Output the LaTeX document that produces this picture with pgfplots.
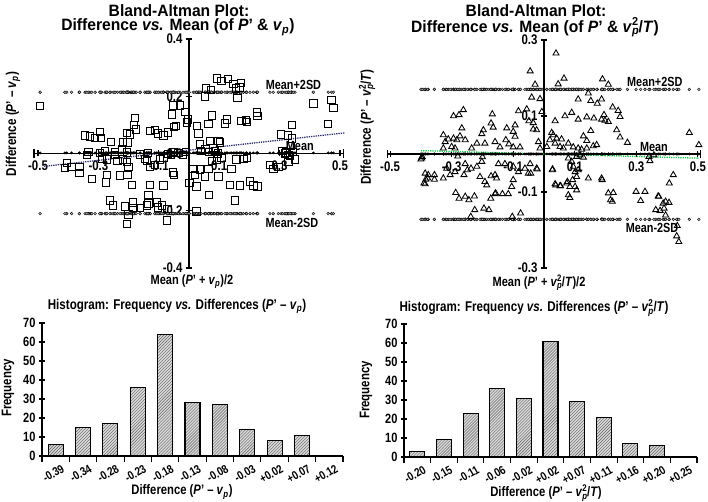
\documentclass[border=0pt]{standalone}
\usepackage{fontspec}
\setmainfont{Liberation Sans}[FakeStretch=0.82]
\newfontfamily\titlefont{Liberation Sans}[FakeStretch=0.95]
\usepackage{pgfplots}
\pgfplotsset{compat=1.18}
\usepackage{pgfplotstable}
\usetikzlibrary{patterns}

\newcommand{\Pp}{\textit{P}’}
\newcommand{\vp}{\textit{v}\textsubscript{\textit{p}}}
\newcommand{\vpsq}{\textit{v}\rlap{\textsubscript{\textit{p}}}\textsuperscript{2}}

\pgfplotstableread{
x y
-0.493 0.166
-0.052 0.168
-0.030 0.168
-0.057 0.137
-0.013 0.145
-0.044 0.096
-0.050 0.092
-0.006 0.108
-0.179 0.125
-0.182 0.099
-0.175 0.084
-0.206 0.072
-0.195 0.067
-0.204 0.038
-0.218 0.038
-0.223 0.014
-0.344 0.063
-0.328 0.059
-0.311 0.055
-0.292 0.055
-0.295 0.075
-0.259 0.040
-0.129 0.078
-0.113 0.082
-0.102 0.070
-0.085 0.063
-0.069 0.073
-0.333 0.005
-0.278 0.008
-0.245 0.005
-0.289 -0.019
-0.272 -0.021
-0.237 -0.027
-0.218 -0.021
-0.206 -0.030
-0.201 -0.047
-0.146 -0.019
-0.140 -0.027
-0.129 -0.047
-0.096 -0.021
-0.085 -0.015
-0.113 -0.039
-0.405 -0.033
-0.411 -0.050
-0.389 -0.047
-0.363 -0.047
-0.363 -0.068
-0.322 -0.088
-0.275 -0.101
-0.272 -0.074
-0.228 -0.077
-0.204 -0.074
-0.190 -0.109
-0.129 -0.109
-0.085 -0.112
-0.135 -0.144
-0.054 -0.066
-0.050 -0.074
-0.262 -0.164
-0.251 -0.182
-0.212 -0.185
-0.186 -0.171
-0.184 -0.191
-0.162 -0.191
-0.140 -0.182
-0.135 -0.175
-0.107 -0.171
-0.102 -0.188
-0.090 -0.182
-0.072 -0.194
-0.074 -0.234
-0.206 -0.246
-0.201 -0.213
0.001 -0.103
0.092 0.262
0.108 0.254
0.128 0.260
0.147 0.242
0.172 0.246
0.156 0.227
0.167 0.231
0.160 0.194
0.056 0.227
0.072 0.222
0.052 0.199
0.412 0.175
0.472 0.187
0.478 0.160
0.461 0.104
-0.004 0.119
0.075 0.133
0.064 0.104
0.125 0.119
0.119 0.105
0.174 0.113
0.191 0.110
0.189 0.117
0.224 0.143
0.227 0.131
0.031 0.070
0.027 0.096
0.340 0.099
0.305 0.067
0.327 0.063
0.340 0.052
0.338 0.026
0.036 0.032
0.070 0.043
0.097 0.043
0.103 0.038
0.081 0.020
0.092 -0.021
0.075 -0.027
0.108 -0.015
0.014 -0.054
0.036 -0.056
0.064 -0.054
0.020 -0.074
0.053 -0.080
0.025 -0.115
0.097 -0.080
0.141 -0.054
0.157 -0.021
0.180 -0.019
0.191 -0.015
0.136 -0.109
0.169 -0.112
0.202 -0.097
0.213 -0.112
0.227 -0.115
0.066 -0.144
0.152 -0.164
0.268 -0.039
0.279 -0.054
0.296 -0.047
0.329 -0.030
0.351 -0.021
0.318 0.000
0.329 -0.004
0.025 -0.202
-0.050 0.005
-0.035 0.002
-0.020 -0.004
-0.010 0.006
-0.060 -0.006
0.040 0.010
0.055 0.015
0.065 0.005
0.085 0.008
0.095 0.000
0.310 0.008
0.322 0.004
0.335 -0.008
0.345 0.006
-0.338 -0.004
-0.295 0.003
-0.245 -0.005
-0.205 0.004
-0.162 -0.003
-0.136 0.002
-0.070 -0.002
-0.053 0.004
}\dataA

\pgfplotstableread{
x y
-0.045 0.218
-0.029 0.183
-0.040 0.149
-0.013 0.145
-0.007 0.111
-0.056 0.118
-0.083 0.113
-0.049 0.087
-0.035 0.082
-0.035 0.065
-0.024 0.063
-0.094 0.076
-0.100 0.059
-0.121 0.068
-0.094 0.046
-0.124 0.037
-0.114 0.026
-0.100 0.018
-0.078 0.018
-0.018 0.032
-0.013 0.015
-0.168 0.105
-0.172 0.081
-0.165 0.070
-0.197 0.063
-0.202 0.053
-0.192 0.028
-0.218 0.028
-0.235 0.015
-0.159 0.032
-0.143 0.018
-0.262 0.116
-0.276 0.103
-0.294 0.100
-0.267 0.068
-0.273 0.047
-0.327 0.050
-0.321 0.032
-0.311 0.039
-0.294 0.041
-0.283 0.037
-0.256 0.037
-0.300 0.019
-0.289 0.015
-0.327 0.015
-0.397 -0.011
-0.386 -0.051
-0.376 -0.055
-0.356 -0.055
-0.384 -0.067
-0.378 -0.064
-0.356 -0.067
-0.386 -0.079
-0.327 -0.064
-0.305 -0.055
-0.289 -0.047
-0.316 -0.038
-0.256 -0.026
-0.237 -0.038
-0.218 -0.033
-0.202 -0.020
-0.208 -0.060
-0.192 -0.073
-0.186 -0.082
-0.172 -0.058
-0.159 -0.055
-0.154 -0.064
-0.148 -0.026
-0.127 -0.026
-0.100 -0.033
-0.083 -0.047
-0.062 -0.038
-0.045 -0.026
-0.051 -0.051
-0.024 -0.038
-0.100 -0.068
-0.105 -0.086
-0.116 -0.105
-0.135 -0.105
-0.159 -0.105
-0.226 -0.111
-0.256 -0.112
-0.287 -0.102
-0.276 -0.117
-0.244 -0.121
-0.225 -0.147
-0.195 -0.143
-0.179 -0.147
-0.238 -0.165
-0.173 -0.117
-0.157 -0.103
-0.076 -0.156
-0.103 -0.165
-0.400 -0.014
-0.390 -0.077
-0.260 -0.055
-0.249 -0.042
-0.043 -0.051
-0.022 -0.040
0.039 0.265
0.065 0.199
0.046 0.184
0.190 0.197
0.209 0.183
0.144 0.160
0.111 0.144
0.152 0.140
0.173 0.133
0.187 0.144
0.223 0.123
0.241 0.114
0.247 0.098
0.195 0.103
0.187 0.091
0.198 0.088
0.209 0.085
0.090 0.109
0.068 0.100
0.111 0.091
0.139 0.097
0.162 0.094
0.036 0.087
0.152 0.061
0.128 0.047
0.139 0.035
0.160 0.021
0.236 0.063
0.247 0.044
0.271 0.030
0.171 0.024
0.025 0.056
0.030 0.050
0.019 0.037
0.041 0.041
0.057 0.039
0.036 0.028
0.052 0.019
0.063 0.015
0.079 0.028
0.095 0.018
0.111 0.015
0.122 0.012
0.139 0.015
0.009 0.019
0.472 0.056
0.503 0.024
0.344 -0.018
0.028 -0.040
0.079 -0.011
0.090 -0.020
0.095 -0.033
0.101 -0.047
0.106 -0.060
0.111 -0.042
0.093 -0.068
0.101 -0.086
0.106 -0.095
0.074 -0.077
0.084 -0.086
0.036 -0.079
0.052 -0.084
0.144 -0.064
0.187 -0.064
0.079 -0.108
0.209 -0.103
0.225 -0.102
0.299 -0.099
0.328 -0.099
0.371 -0.111
0.420 -0.055
0.407 -0.077
0.117 -0.003
0.128 -0.009
0.106 -0.007
0.027 -0.042
0.038 -0.082
0.054 -0.084
0.076 -0.073
0.084 -0.115
0.189 -0.068
0.216 -0.121
0.222 -0.125
0.314 -0.123
0.395 -0.125
0.387 -0.130
0.406 -0.128
0.390 -0.143
0.363 -0.147
0.377 -0.149
0.395 -0.161
0.433 -0.189
0.431 -0.216
0.438 -0.231
0.373 -0.112
0.341 -0.007
0.357 -0.003
-0.396 -0.007
-0.280 -0.006
-0.200 -0.008
}\dataB

\pgfplotsset{
  ba/.style={
    scale only axis, clip=false,
    axis lines=middle,
    axis line style={line width=1.2bp,-},
    x axis line style={|-|},
    tick style={line width=1.1bp,black},
    tick align=center,
    major tick length=6bp,
    ticklabel style={font=\fontsize{14}{15}\selectfont\bfseries},
    /pgf/number format/assume math mode=true,
    /pgf/number format/fixed,
    /pgf/number format/fixed zerofill,
    /pgf/number format/precision=1,
    hide obscured x ticks=false,
    hide obscured y ticks=false,
    xticklabel style={yshift=-1bp},
  },
  gdot/.style={only marks, mark=*, mark size=1.4bp, draw=none, fill=gray!55},
  bdot/.style={only marks, mark=*, mark size=1.2bp, draw=none, fill=black},
  hist/.style={
    scale only axis, clip=false,
    axis x line=bottom, axis y line=left,
    axis line style={line width=1.1bp,-},
    tick style={line width=1.1bp,black},
    ymin=0, ymax=70, ytick={0,10,...,70},
    xmin=-0.5, xmax=10.5, xtick={0,...,10},
    major x tick style={draw=none},
    minor xtick={-0.5,0.5,...,10.5},
    minor tick length=6bp, major tick length=6bp,
    tick align=center,
    yticklabel style={font=\fontsize{13.5}{14}\selectfont\bfseries},
    xticklabel style={font=\fontsize{12}{12}\selectfont\bfseries, rotate=30, anchor=north east, xshift=7bp, yshift=-1bp},
    /pgf/number format/assume math mode=true,
    ybar, bar width=15bp, bar shift=0pt,
  },
  hbar/.style={draw=black, line width=1.1bp, fill=gray!30, postaction={pattern=north east lines, pattern color=gray!75!black}},
}

\begin{document}
\begin{tikzpicture}
\path[use as bounding box] (0,0) rectangle (708bp,502bp);

% ---------- Titles and labels ----------
\begin{scope}[every node/.style={font=\titlefont\fontsize{16.5}{18}\selectfont\bfseries, inner sep=0pt}]
\node at (179bp,491bp) {Bland-Altman Plot:};
\node at (178bp,474.5bp) {Difference \textit{vs.} Mean (of \Pp\ \& \vp)};
\node at (536bp,491bp) {Bland-Altman Plot:};
\node at (535bp,474.5bp) {Difference \textit{vs.} Mean (of \Pp\ \& \vpsq/\textit{T})};
\end{scope}
\begin{scope}[every node/.style={font=\fontsize{14.3}{16}\selectfont\bfseries, inner sep=0pt}]
\node[rotate=90] at (13bp,378bp) {Difference (\Pp\ – \vp)};
\node[rotate=90] at (367bp,375bp) {Difference (\Pp\ – \vpsq/\textit{T})};
\end{scope}
\begin{scope}[every node/.style={font=\fontsize{13.5}{15}\selectfont\bfseries, inner sep=0pt}]
\node at (192bp,220bp) {Mean (\Pp\ + \vp)/2};
\node at (539bp,219bp) {Mean (\Pp\ + \vpsq/\textit{T})/2};
\end{scope}
\begin{scope}[every node/.style={font=\fontsize{14.2}{15}\selectfont\bfseries, inner sep=0pt}]
\node at (177bp,196bp) {Histogram: Frequency \textit{vs.} Differences (\Pp\ – \vp)};
\node at (534bp,194bp) {Histogram: Frequency \textit{vs.} Differences (\Pp\ – \vpsq/\textit{T})};
\end{scope}
\begin{scope}[every node/.style={font=\fontsize{14}{15}\selectfont\bfseries, inner sep=0pt}]
\node[rotate=90] at (8bp,114bp) {Frequency};
\node[rotate=90] at (366bp,112bp) {Frequency};
\end{scope}
\begin{scope}[every node/.style={font=\fontsize{13.8}{15}\selectfont\bfseries, inner sep=0pt}]
\node at (182bp,10bp) {Difference (\Pp\ – \vp)};
\node at (546bp,9bp) {Difference (\Pp\ – \vpsq/\textit{T})};
\end{scope}

% ---------- Top left: Bland-Altman ----------
\begin{axis}[ba, at={(33.5bp,234bp)}, anchor=south west, width=311bp, height=229bp,
  xmin=-0.515, xmax=0.515, ymin=-0.4, ymax=0.4,
  xtick={-0.5,-0.3,-0.1,0.1,0.3,0.5}, ytick={-0.4,-0.2,0,0.2,0.4}]
\addplot[gdot] table[x=x, y expr=0.214] {\dataA};
\addplot[gdot] table[x=x, y expr=-0.21] {\dataA};
\addplot[bdot] table[x=x, y expr=0.002] {\dataA};
\addplot[densely dotted, line width=1.3bp, color={rgb,255:red,45;green,45;blue,110}] coordinates {(-0.48,-0.045) (0.515,0.072)};
\addplot[only marks, mark=square, mark size=3.7bp, mark options={draw=black, line width=0.85bp, fill=none}] table[x=x,y=y] {\dataA};
\node[font=\fontsize{13.3}{14}\selectfont\bfseries] at (axis cs:0.346,0.239) {Mean+2SD};
\node[font=\fontsize{13.3}{14}\selectfont\bfseries] at (axis cs:0.367,0.025) {Mean};
\node[font=\fontsize{13.3}{14}\selectfont\bfseries] at (axis cs:0.341,-0.241) {Mean-2SD};
\end{axis}

% ---------- Top right: Bland-Altman ----------
\begin{axis}[ba, at={(387bp,234bp)}, anchor=south west, width=314bp, height=228bp,
  xmin=-0.51, xmax=0.51, ymin=-0.3, ymax=0.3,
  xtick={-0.5,-0.3,-0.1,0.1,0.3,0.5}, ytick={-0.3,-0.1,0,0.1,0.3},
  yticklabel={\ifdim\tick pt=0pt\else\pgfmathprintnumber{\tick}\fi}]
\addplot[gdot] table[x=x, y expr=0.17] {\dataB};
\addplot[gdot] table[x=x, y expr=-0.172] {\dataB};
\addplot[bdot] table[x=x, y expr=0.0] {\dataB};
\addplot[densely dotted, line width=1.3bp, color={rgb,255:red,30;green,200;blue,80}] coordinates {(-0.40,0.009) (0.503,-0.011)};
\addplot[only marks, mark=triangle, mark size=3.5bp, mark options={draw=black, line width=0.85bp, fill=none}] table[x=x,y=y] {\dataB};
\node[font=\fontsize{13.3}{14}\selectfont\bfseries] at (axis cs:0.36,0.19) {Mean+2SD};
\node[font=\fontsize{13.3}{14}\selectfont\bfseries] at (axis cs:0.357,0.019) {Mean};
\node[font=\fontsize{13.3}{14}\selectfont\bfseries] at (axis cs:0.351,-0.195) {Mean-2SD};
\end{axis}

% ---------- Bottom left: histogram ----------
\begin{axis}[hist, at={(42bp,46bp)}, anchor=south west, width=301bp, height=133bp,
  xticklabels={-0.39,-0.34,-0.28,-0.23,-0.18,-0.13,-0.08,-0.03,+0.02,+0.07,+0.12}]
\addplot[hbar] coordinates {(0,6) (1,15) (2,17) (3,36) (4,64) (5,28) (6,27) (7,14) (8,8) (9,11)};
\end{axis}

% ---------- Bottom right: histogram ----------
\begin{axis}[hist, at={(404bp,45bp)}, anchor=south west, width=293bp, height=133bp,
  xticklabels={-0.20,-0.15,-0.11,-0.06,-0.02,+0.02,+0.07,+0.11,+0.16,+0.20,+0.25}]
\addplot[hbar] coordinates {(0,3) (1,9) (2,23) (3,36) (4,31) (5,61) (6,29) (7,21) (8,7) (9,6)};
\end{axis}
\end{tikzpicture}
\end{document}
